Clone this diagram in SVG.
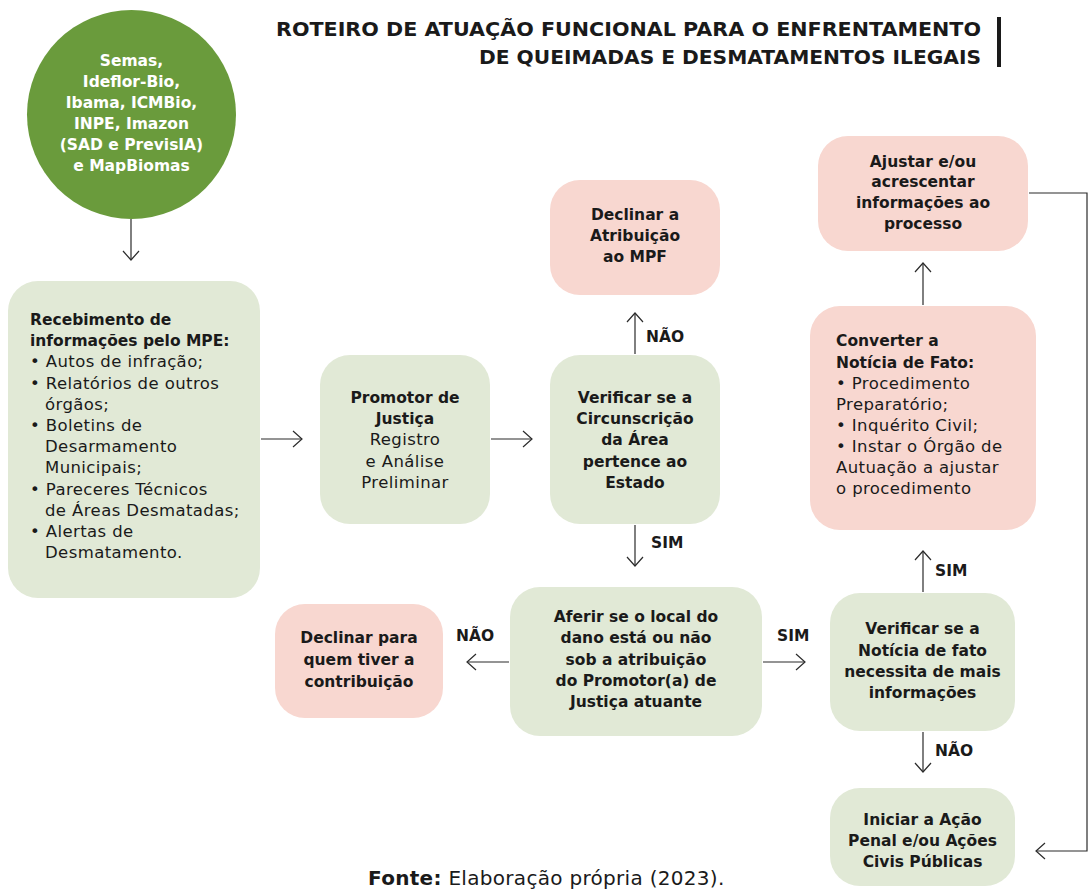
<svg xmlns="http://www.w3.org/2000/svg" width="1091" height="889" viewBox="0 0 1091 889">
<style>
.g{fill:#e1e9d6}
.p{fill:#f8d7d0}
.t{font-family:"DejaVu Sans","Liberation Sans",sans-serif;font-size:15.5px;fill:#1a1a1a}
.r{font-size:16.5px;letter-spacing:0.4px}
.b{font-weight:bold}
.c{text-anchor:middle}
.w{fill:#ffffff}
.lbl{font-family:"DejaVu Sans","Liberation Sans",sans-serif;font-size:15.5px;font-weight:bold;fill:#1a1a1a}
.ln{fill:none;stroke:#2b2b2b;stroke-width:1.2}
</style>
<defs>
<marker id="arr" markerWidth="12" markerHeight="18" refX="10" refY="9" orient="auto" markerUnits="userSpaceOnUse">
<path d="M1,1 L10,9 L1,17" fill="none" stroke="#2b2b2b" stroke-width="1.2"/>
</marker>
</defs>
<rect width="1091" height="889" fill="#ffffff"/>

<g id="title">
<text class="t b" style="font-size:19px" text-anchor="end" x="981" y="36" textLength="705" lengthAdjust="spacingAndGlyphs">ROTEIRO DE ATUAÇÃO FUNCIONAL PARA O ENFRENTAMENTO</text>
<text class="t b" style="font-size:19px" text-anchor="end" x="981" y="64" textLength="502" lengthAdjust="spacingAndGlyphs">DE QUEIMADAS E DESMATAMENTOS ILEGAIS</text>
<rect x="997" y="17" width="4" height="50" fill="#1a1a1a"/>
</g>

<g id="fontes">
<circle cx="131.5" cy="114.5" r="104.5" fill="#6a9b3c"/>
<text class="t b c w" x="131.5" y="66">Semas,</text>
<text class="t b c w" x="131.5" y="87">Ideflor-Bio,</text>
<text class="t b c w" x="131.5" y="108">Ibama, ICMBio,</text>
<text class="t b c w" x="131.5" y="129">INPE, Imazon</text>
<text class="t b c w" x="131.5" y="150">(SAD e PrevisIA)</text>
<text class="t b c w" x="131.5" y="171">e MapBiomas</text>
</g>

<g id="recebimento">
<rect class="g" x="8" y="281" width="252" height="317" rx="30"/>
<text class="t b" x="30" y="325">Recebimento de</text>
<text class="t b" x="30" y="346">informações pelo MPE:</text>
<text class="t r" x="30" y="367">• Autos de infração;</text>
<text class="t r" x="30" y="389">• Relatórios de outros</text>
<text class="t r" x="45" y="410">órgãos;</text>
<text class="t r" x="30" y="431">• Boletins de</text>
<text class="t r" x="45" y="452">Desarmamento</text>
<text class="t r" x="45" y="473">Municipais;</text>
<text class="t r" x="30" y="495">• Pareceres Técnicos</text>
<text class="t r" x="45" y="516">de Áreas Desmatadas;</text>
<text class="t r" x="30" y="537">• Alertas de</text>
<text class="t r" x="45" y="558">Desmatamento.</text>
</g>

<g id="promotor">
<rect class="g" x="320" y="355" width="170" height="169" rx="30"/>
<text class="t b c" x="405" y="403">Promotor de</text>
<text class="t b c" x="405" y="424">Justiça</text>
<text class="t r c" x="405" y="445">Registro</text>
<text class="t r c" x="405" y="467">e Análise</text>
<text class="t r c" x="405" y="488">Preliminar</text>
</g>

<g id="verificar-circ">
<rect class="g" x="550" y="355" width="170" height="169" rx="30"/>
<text class="t b c" x="635" y="403">Verificar se a</text>
<text class="t b c" x="635" y="424">Circunscrição</text>
<text class="t b c" x="635" y="445">da Área</text>
<text class="t b c" x="635" y="467">pertence ao</text>
<text class="t b c" x="635" y="488">Estado</text>
</g>

<g id="declinar-mpf">
<rect class="p" x="550" y="180" width="170" height="115" rx="30"/>
<text class="t b c" x="635" y="220">Declinar a</text>
<text class="t b c" x="635" y="241">Atribuição</text>
<text class="t b c" x="635" y="262">ao MPF</text>
</g>

<g id="aferir">
<rect class="g" x="510" y="587" width="252" height="149" rx="30"/>
<text class="t b c" x="636" y="622">Aferir se o local do</text>
<text class="t b c" x="636" y="643">dano está ou não</text>
<text class="t b c" x="636" y="665">sob a atribuição</text>
<text class="t b c" x="636" y="686">do Promotor(a) de</text>
<text class="t b c" x="636" y="707">Justiça atuante</text>
</g>

<g id="declinar-quem">
<rect class="p" x="275" y="604" width="168" height="114" rx="30"/>
<text class="t b c" x="359" y="643">Declinar para</text>
<text class="t b c" x="359" y="665">quem tiver a</text>
<text class="t b c" x="359" y="687">contribuição</text>
</g>

<g id="verificar-noticia">
<rect class="g" x="830" y="593" width="185" height="138" rx="30"/>
<text class="t b c" x="922.5" y="634">Verificar se a</text>
<text class="t b c" x="922.5" y="656">Notícia de fato</text>
<text class="t b c" x="922.5" y="677">necessita de mais</text>
<text class="t b c" x="922.5" y="698">informações</text>
</g>

<g id="converter">
<rect class="p" x="810" y="306" width="226" height="224" rx="30"/>
<text class="t b" x="836" y="346">Converter a</text>
<text class="t b" x="836" y="368">Notícia de Fato:</text>
<text class="t r" x="836" y="389">• Procedimento</text>
<text class="t r" x="836" y="410">Preparatório;</text>
<text class="t r" x="836" y="431">• Inquérito Civil;</text>
<text class="t r" x="836" y="452">• Instar o Órgão de</text>
<text class="t r" x="836" y="473">Autuação a ajustar</text>
<text class="t r" x="836" y="494">o procedimento</text>
</g>

<g id="ajustar">
<rect class="p" x="818" y="136" width="210" height="115" rx="30"/>
<text class="t b c" x="923" y="167">Ajustar e/ou</text>
<text class="t b c" x="923" y="187">acrescentar</text>
<text class="t b c" x="923" y="208">informações ao</text>
<text class="t b c" x="923" y="229">processo</text>
</g>

<g id="iniciar">
<rect class="g" x="830" y="788" width="185" height="98" rx="30"/>
<text class="t b c" x="922.5" y="825">Iniciar a Ação</text>
<text class="t b c" x="922.5" y="846">Penal e/ou Ações</text>
<text class="t b c" x="922.5" y="867">Civis Públicas</text>
</g>

<g id="connectors">
<line class="ln" x1="131" y1="219" x2="131" y2="260" marker-end="url(#arr)"/>
<line class="ln" x1="261" y1="439" x2="302" y2="439" marker-end="url(#arr)"/>
<line class="ln" x1="491" y1="439" x2="532" y2="439" marker-end="url(#arr)"/>
<line class="ln" x1="635" y1="354" x2="635" y2="313" marker-end="url(#arr)"/>
<line class="ln" x1="635" y1="525" x2="635" y2="566" marker-end="url(#arr)"/>
<line class="ln" x1="509" y1="662" x2="467" y2="662" marker-end="url(#arr)"/>
<line class="ln" x1="763" y1="662" x2="805" y2="662" marker-end="url(#arr)"/>
<line class="ln" x1="923" y1="592" x2="923" y2="551" marker-end="url(#arr)"/>
<line class="ln" x1="923" y1="732" x2="923" y2="772" marker-end="url(#arr)"/>
<line class="ln" x1="923" y1="305" x2="923" y2="263" marker-end="url(#arr)"/>
<polyline class="ln" points="1029,193 1087,193 1087,851 1036,851" marker-end="url(#arr)"/>
<text class="lbl" x="646" y="342">NÃO</text>
<text class="lbl" x="651" y="548">SIM</text>
<text class="lbl" x="456" y="641">NÃO</text>
<text class="lbl" x="777" y="641">SIM</text>
<text class="lbl" x="935" y="576">SIM</text>
<text class="lbl" x="935" y="756">NÃO</text>
</g>

<g id="fonte">
<text class="t" style="font-size:20px;letter-spacing:0.3px" x="368" y="885"><tspan font-weight="bold">Fonte:</tspan> Elaboração própria (2023).</text>
</g>
</svg>
